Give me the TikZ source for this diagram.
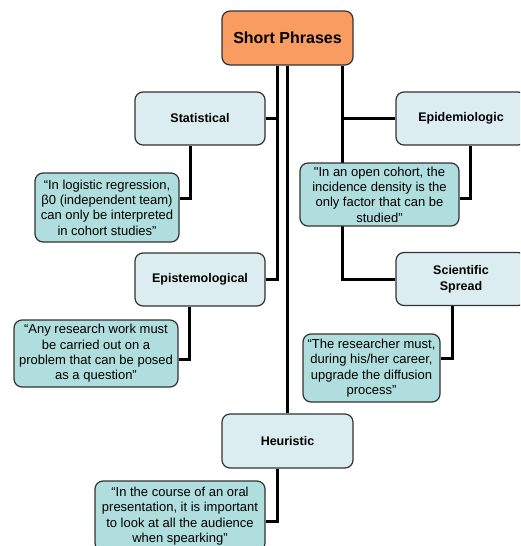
\documentclass[tikz,border=0pt]{standalone}
\usepackage{fontspec}
\setmainfont{Liberation Sans}
\usetikzlibrary{backgrounds}
\definecolor{rootfill}{RGB}{248,156,98}
\definecolor{catfill}{RGB}{219,237,241}
\definecolor{quotefill}{RGB}{176,221,221}
\definecolor{edge}{RGB}{50,50,50}
\begin{document}
\begin{tikzpicture}[x=1pt,y=-1pt,
  rootbox/.style={draw=edge, line width=1.2pt, fill=rootfill, rounded corners=8pt,
    minimum width=131pt, minimum height=54pt, inner sep=0pt,
    font={\fontsize{16}{18}\selectfont\bfseries}},
  catbox/.style={draw=edge, line width=1.2pt, fill=catfill, rounded corners=8pt,
    minimum width=130pt, minimum height=53pt, inner sep=0pt, align=center,
    font={\fontsize{12.5}{16}\selectfont\bfseries}},
  quotebox/.style={draw=edge, line width=1.2pt, fill=quotefill, rounded corners=8pt,
    inner sep=0pt, align=center, font={\fontsize{13}{15.3}\selectfont}},
  link/.style={line width=3pt, black}]
\clip (0,0) rectangle (520,546);
% Raiz
\node[rootbox] (root) at (287.5,38) {Short Phrases};
% Ramas
\node[catbox] (stat) at (200,118.5) {Statistical};
\node[catbox] (epid) at (461,118.5) {Epidemiologic};
\node[catbox] (epis) at (200,279.5) {Epistemological};
\node[catbox] (sci) at (461,279) {Scientific\\Spread};
\node[catbox, minimum width=131pt, minimum height=54pt] (heur) at (287.5,441) {Heuristic};
% Frases
\node[quotebox, minimum width=144pt, minimum height=69pt] (statq) at (107,207.5)
  {“In logistic regression,\\β0 (independent team)\\can only be interpreted\\in cohort studies”};
\node[quotebox, minimum width=159pt, minimum height=63pt] (epidq) at (379.5,194.5)
  {\textquotedbl In an open cohort, the\\incidence density is the\\only factor that can be\\studied”};
\node[quotebox, minimum width=164pt, minimum height=67pt] (episq) at (96,353.5)
  {“Any research work must\\be carried out on a\\problem that can be posed\\as a question”};
\node[quotebox, minimum width=137pt, minimum height=68pt] (sciq) at (371.5,368)
  {“The researcher must,\\during his/her career,\\upgrade the diffusion\\process”};
\node[quotebox, minimum width=170pt, minimum height=70pt] (heurq) at (180,516)
  {“In the course of an oral\\presentation, it is important\\to look at all the audience\\when spearking”};
% Conectores
\begin{pgfonlayer}{background}
\draw[link] ([xshift=-10.5pt]root.south) |- (stat.east);
\draw[link] ([xshift=-10.5pt]root.south) |- (epis.east);
\draw[link] (root.south) -- (heur.north);
\draw[link] ([xshift=54.5pt]root.south) |- (epid.west);
\draw[link] ([xshift=54.5pt]root.south) |- (sci.west);
\draw[link] ([xshift=-10pt]stat.south) |- ([yshift=9.5pt]statq.east);
\draw[link] ([xshift=9pt]epid.south) |- ([yshift=-3.5pt]epidq.east);
\draw[link] ([xshift=-11pt]epis.south) |- ([yshift=-5.5pt]episq.east);
\draw[link] ([xshift=-9pt]sci.south) |- ([yshift=10pt]sciq.east);
\draw[link] ([xshift=-10.5pt]heur.south) |- ([yshift=-5pt]heurq.east);
\end{pgfonlayer}
\end{tikzpicture}
\end{document}
